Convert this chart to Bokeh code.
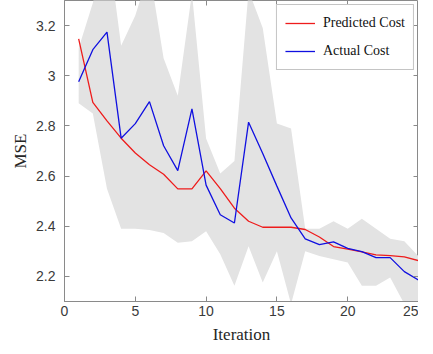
from bokeh.plotting import figure
from bokeh.models import LinearAxis, Range1d, FixedTicker, CustomJSTickFormatter, Legend, LegendItem
from bokeh.embed import file_html
from bokeh.resources import INLINE

iterations = list(range(1, 26))
predicted_cost = [3.147, 2.894, 2.82, 2.751, 2.692, 2.645, 2.607, 2.549, 2.549, 2.621,
                  2.55, 2.472, 2.42, 2.396, 2.396, 2.396, 2.387, 2.357, 2.319, 2.309,
                  2.298, 2.286, 2.283, 2.278, 2.263]
actual_cost = [2.976, 3.104, 3.174, 2.751, 2.809, 2.897, 2.721, 2.622, 2.868, 2.564,
               2.446, 2.413, 2.815, 2.69, 2.56, 2.433, 2.35, 2.327, 2.338, 2.312,
               2.299, 2.275, 2.275, 2.219, 2.186]
band_upper = [3.11, 3.29, 3.55, 3.12, 3.24, 3.42, 3.07, 2.92, 3.33, 2.75,
              2.61, 2.66, 3.34, 3.19, 2.81, 2.79, 2.39, 2.39, 2.42, 2.39,
              2.43, 2.39, 2.35, 2.34, 2.28]
band_lower = [2.89, 2.85, 2.55, 2.39, 2.39, 2.385, 2.373, 2.334, 2.34, 2.38,
              2.288, 2.163, 2.32, 2.176, 2.30, 2.09, 2.30, 2.281, 2.268, 2.255,
              2.163, 2.163, 2.196, 2.09, 2.08]
x_ticks = [0, 5, 10, 15, 20, 25]
y_ticks = [2.2, 2.4, 2.6, 2.8, 3.0, 3.2]

AXIS_COLOR = "#8a8a8a"
TICK_TEXT = "#3a3a3a"

p = figure(width=410, height=346, output_backend="svg", toolbar_location=None,
           x_range=Range1d(0, 25), y_range=Range1d(2.1, 3.3),
           min_border_left=0, min_border_right=0, min_border_top=0, min_border_bottom=0,
           margin=(0, 0, 0, 8))

p.xgrid.visible = False
p.ygrid.visible = False
p.outline_line_color = AXIS_COLOR
p.outline_line_width = 1
p.background_fill_color = "white"
p.border_fill_color = "white"

p.varea(x=iterations, y1=band_lower, y2=band_upper, fill_color="#e3e3e3", fill_alpha=1.0)
r_pred = p.line(iterations, predicted_cost, line_color="#ee1c1c", line_width=1.3)
r_act = p.line(iterations, actual_cost, line_color="#1010e0", line_width=1.3)

for ax in [p.xaxis[0], p.yaxis[0]]:
    ax.axis_line_color = AXIS_COLOR
    ax.major_tick_line_color = AXIS_COLOR
    ax.major_tick_in = 5
    ax.major_tick_out = 0
    ax.minor_tick_line_color = None
    ax.major_label_text_font = "Liberation Sans"
    ax.major_label_text_font_size = "14px"
    ax.major_label_text_color = TICK_TEXT
    ax.major_label_text_line_height = 1.0
    ax.axis_label_text_font = "Liberation Serif"
    ax.axis_label_text_font_size = "17px"
    ax.axis_label_text_font_style = "normal"
    ax.axis_label_text_color = "#262626"
    ax.axis_label_text_line_height = 0.9

p.xaxis[0].ticker = FixedTicker(ticks=x_ticks)
p.yaxis[0].ticker = FixedTicker(ticks=y_ticks)
p.xaxis[0].axis_label = "Iteration"
p.yaxis[0].axis_label = "MSE"
p.xaxis[0].major_label_standoff = 4
p.yaxis[0].major_label_standoff = 9
p.xaxis[0].axis_label_standoff = 6
p.yaxis[0].axis_label_standoff = 3

blank = CustomJSTickFormatter(code="return ''")
top_ax = LinearAxis(ticker=FixedTicker(ticks=x_ticks), formatter=blank)
right_ax = LinearAxis(ticker=FixedTicker(ticks=y_ticks), formatter=blank)
for ax in [top_ax, right_ax]:
    ax.axis_line_color = None
    ax.major_tick_line_color = AXIS_COLOR
    ax.major_tick_in = 5
    ax.major_tick_out = 0
    ax.minor_tick_line_color = None
    ax.major_label_text_font_size = "1px"
    ax.major_label_standoff = 0
p.add_layout(top_ax, "above")
p.add_layout(right_ax, "right")

legend = Legend(items=[LegendItem(label="Predicted Cost", renderers=[r_pred]),
                       LegendItem(label="Actual Cost", renderers=[r_act])],
                location="top_right", margin=4)
legend.label_text_font = "Liberation Serif"
legend.label_text_font_size = "14px"
legend.label_text_color = "#111111"
legend.glyph_width = 30
legend.label_standoff = 8
legend.padding = 8
legend.spacing = 8
legend.label_height = 20
legend.border_line_color = "#8a8a8a"
legend.border_line_width = 1
legend.background_fill_color = "white"
legend.background_fill_alpha = 1.0
p.add_layout(legend, "center")

open("out.html", "w").write(file_html(p, INLINE))
